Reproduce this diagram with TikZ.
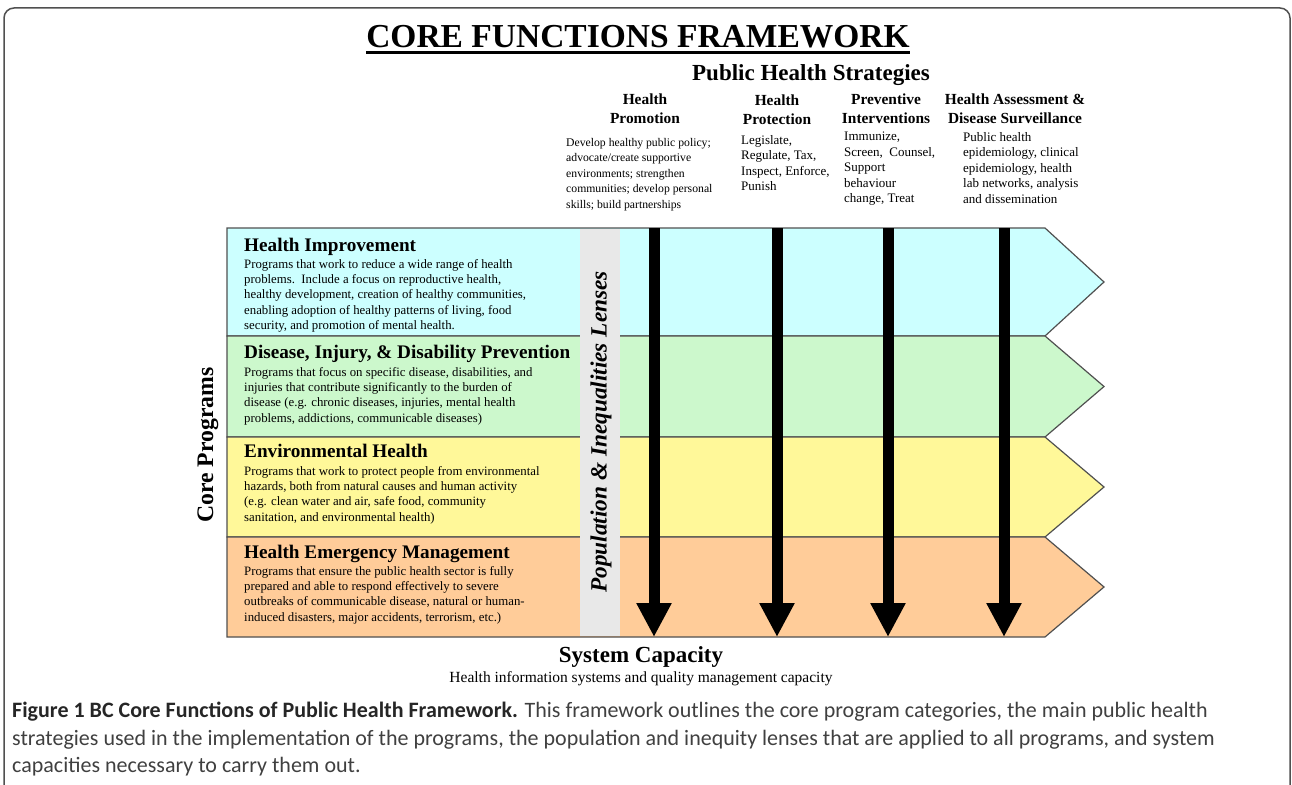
\documentclass[tikz,border=0pt]{standalone}
\usepackage{fontspec}
\setmainfont{Liberation Serif}
\newfontfamily\capfont{Carlito}
\usetikzlibrary{arrows.meta}
\usetikzlibrary{positioning}
\tikzset{>=latex}
\definecolor{hicol}{HTML}{CCFFFF}
\definecolor{dicol}{HTML}{CCF8CC}
\definecolor{ehcol}{HTML}{FFF899}
\definecolor{emcol}{HTML}{FFCC99}
\definecolor{lenscol}{HTML}{E8E8E8}
\definecolor{edgecol}{HTML}{505050}
\definecolor{capgray}{HTML}{404040}
\tikzset{
    band/.style={draw=edgecol, line width=1.2pt},
    bandhead/.style={anchor=base west, inner sep=0, font=\fontsize{19.2}{22}\selectfont\bfseries},
    bandtext/.style={anchor=north west, inner sep=0, align=left, font=\fontsize{12.8}{15.3}\selectfont},
    stratname/.style={anchor=north, inner sep=0, align=center, font=\fontsize{15.4}{18.5}\selectfont\bfseries},
    strattext/.style={anchor=north west, inner sep=0, align=left, font=\fontsize{13}{15.5}\selectfont},
    bigarrow/.style={line width=11pt, -{Triangle[width=33pt, length=34pt]}},
}

\begin{document}
\begin{tikzpicture}[x=1pt, y=-1pt]
    \useasboundingbox (0, 0) rectangle (1292, 784);
    \draw[edgecol, line width=1.5pt, rounded corners=10pt](4, 800)--(4, 8)--(1290, 8)--(1290, 800);

    % title
    \node[anchor=base, inner sep=0, font=\fontsize{33.5}{38}\selectfont\bfseries](title) at (638, 48){CORE FUNCTIONS FRAMEWORK};
    \draw[line width=2.5pt]([yshift=-4pt]title.south west)--([yshift=-4pt]title.south east);
    \node[anchor=base, inner sep=0, font=\fontsize{23}{26}\selectfont\bfseries](phs) at (811, 80){Public Health Strategies};

    % strategies
    \node[stratname](hpro) at (645, 94){Health\\Promotion};
    \node[stratname](hprot) at (777, 95){Health\\Protection};
    \node[stratname](prev) at (886, 94){Preventive\\Interventions};
    \node[stratname](hasd) at (1015, 94){Health Assessment \&\\Disease Surveillance};
    \node[strattext, font=\fontsize{11.7}{15.5}\selectfont](hprotxt) at (566, 138){Develop healthy public policy;\\advocate/create supportive\\environments; strengthen\\communities; develop personal\\skills; build partnerships};
    \node[strattext](hprottxt) at (741, 135){Legislate,\\Regulate, Tax,\\Inspect, Enforce,\\Punish};
    \node[strattext](prevtxt) at (844, 132){Immunize,\\Screen,\ \ Counsel,\\Support\\behaviour\\change, Treat};
    \node[strattext](hasdtxt) at (963, 132){Public health\\epidemiology, clinical\\epidemiology, health\\lab networks, analysis\\and dissemination};

    % core program bands
    \foreach \t/\b/\c in {228/336/hicol, 336/437/dicol, 437/537/ehcol, 537/637/emcol}
        \draw[band, fill=\c](227, \t)--(1045, \t)--(1104, {(\t+\b)/2})--(1045, \b)--(227, \b)--cycle;
    \fill[lenscol](580, 229) rectangle (620, 636);
    \node[rotate=90, inner sep=0, font=\fontsize{23.3}{26}\selectfont\bfseries\itshape](lens) at (601, 432){Population \& Inequalities Lenses};

    % strategy arrows
    \coordinate (base) at (0, 637);
    \foreach \n/\x in {a1/654, a2/777, a3/888, a4/1004}{
        \coordinate (\n) at (\x, 228);
        \draw[bigarrow](\n)--(\n |- base);
    }

    \node[bandhead](hi) at (244, 251){Health Improvement};
    \node[bandtext](hitxt) at (244, 259){Programs that work to reduce a wide range of health\\problems.\ \ Include a focus on reproductive health,\\healthy development, creation of healthy communities,\\enabling adoption of healthy patterns of living, food\\security, and promotion of mental health.};
    \node[bandhead](di) at (244, 358){Disease, Injury, \& Disability Prevention};
    \node[bandtext](ditxt) at (244, 367){Programs that focus on specific disease, disabilities, and\\injuries that contribute significantly to the burden of\\disease (e.g. chronic diseases, injuries, mental health\\problems, addictions, communicable diseases)};
    \node[bandhead](eh) at (244, 457){Environmental Health};
    \node[bandtext](ehtxt) at (244, 466){Programs that work to protect people from environmental\\hazards, both from natural causes and human activity\\(e.g. clean water and air, safe food, community\\sanitation, and environmental health)};
    \node[bandhead](em) at (244, 558){Health Emergency Management};
    \node[bandtext](emtxt) at (244, 566){Programs that ensure the public health sector is fully\\prepared and able to respond effectively to severe\\outbreaks of communicable disease, natural or human-\\induced disasters, major accidents, terrorism, etc.)};
    \node[rotate=90, inner sep=0, font=\fontsize{23.7}{26}\selectfont\bfseries](corep) at (208, 445){Core Programs};

    % system capacity
    \node[inner sep=0, font=\fontsize{23}{26}\selectfont\bfseries](syscap) at (641, 657){System Capacity};
    \node[inner sep=0, below=4pt of syscap, font=\fontsize{15.5}{18}\selectfont](sysinfo){Health information systems and quality management capacity};

    % caption
    \node[anchor=north west, inner sep=0, align=left, text=capgray, font=\capfont\fontsize{22}{27.5}\selectfont](caption) at (12, 702){{\bfseries\color{black!85}Figure 1 BC Core Functions of Public Health Framework.} This framework outlines the core program categories, the main public health\\strategies used in the implementation of the programs, the population and inequity lenses that are applied to all programs, and system\\capacities necessary to carry them out.};
\end{tikzpicture}
\end{document}
